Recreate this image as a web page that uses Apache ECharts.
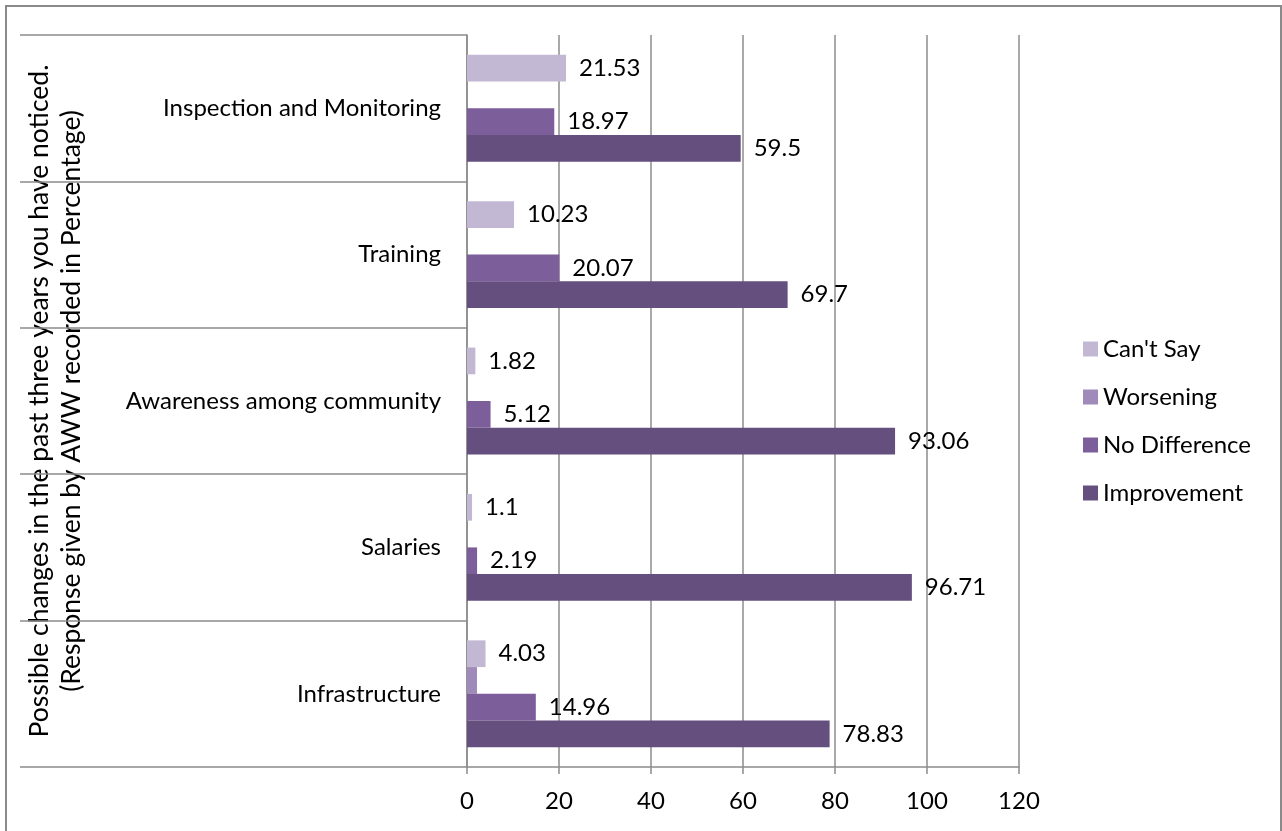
<!DOCTYPE html>
<html>
<head>
<meta charset="utf-8">
<script src="https://cdn.jsdelivr.net/npm/echarts@6/dist/echarts.min.js"></script>
<style>
  html, body { margin: 0; padding: 0; background: #fff; overflow: hidden; }
  #frame { position: absolute; left: 5px; top: 5px; width: 1277px; height: 840px; border: 2px solid #8a8a8a; box-sizing: border-box; }
  #chart { position: absolute; left: 0; top: 0; width: 1282px; height: 831px; }
</style>
</head>
<body>
<div id="frame"></div>
<div id="chart"></div>
<script>
// Categories listed bottom to top along the vertical axis
const categories = ['Infrastructure', 'Salaries', 'Awareness among community', 'Training', 'Inspection and Monitoring'];

// Percentage of responses per category
const improvement  = [78.83, 96.71, 93.06, 69.7, 59.5];
const noDifference = [14.96, 2.19, 5.12, 20.07, 18.97];
const worsening    = [2.18, 0, 0, 0, 0];
const cantSay      = [4.03, 1.1, 1.82, 10.23, 21.53];

const xTicks = { min: 0, max: 120, interval: 20 };

const FONT = 'Lato';
const GREY = '#8c8c8c';

const chart = echarts.init(document.getElementById('chart'), null, { renderer: 'canvas' });

function barSeries(name, data, color, showLabel) {
  return {
    name: name,
    type: 'bar',
    data: data,
    barGap: '0%',
    barCategoryGap: '27%',
    itemStyle: { color: color },
    label: {
      show: showLabel,
      position: 'right',
      distance: 13,
      color: '#000',
      fontFamily: FONT,
      fontSize: 24
    },
    emphasis: { disabled: true }
  };
}

chart.setOption({
  animation: false,
  textStyle: { fontFamily: FONT },
  grid: { left: 467, right: 263, top: 35, bottom: 64, containLabel: false },
  legend: {
    orient: 'vertical',
    left: 1078,
    top: 332,
    itemWidth: 15,
    itemHeight: 15,
    itemGap: 24,
    icon: 'rect',
    data: ["Can't Say", 'Worsening', 'No Difference', 'Improvement'],
    textStyle: { fontFamily: FONT, fontSize: 24, lineHeight: 24, color: '#000' }
  },
  xAxis: {
    type: 'value',
    min: xTicks.min,
    max: xTicks.max,
    interval: xTicks.interval,
    axisLine: { show: true, lineStyle: { color: GREY, width: 1.5 } },
    axisTick: { show: true, length: 7, lineStyle: { color: GREY, width: 1.5 } },
    splitLine: { show: true, lineStyle: { color: GREY, width: 1.5 } },
    axisLabel: { color: '#000', fontFamily: FONT, fontSize: 24, margin: 22 }
  },
  yAxis: {
    type: 'category',
    data: categories,
    boundaryGap: true,
    axisLine: { show: true, lineStyle: { color: GREY, width: 1.5 } },
    axisTick: { show: true, length: 447, lineStyle: { color: GREY, width: 1.5 } },
    axisLabel: { color: '#000', fontFamily: FONT, fontSize: 24, margin: 26 },
    name: 'Possible changes in the past three years you have noticed.\n(Response given by AWW recorded in Percentage)',
    nameLocation: 'middle',
    nameRotate: 90,
    nameGap: 380,
    nameTextStyle: { color: '#000', fontFamily: FONT, fontSize: 26.5, lineHeight: 32, align: 'center' }
  },
  // first series sits at the top of each category band
  series: [
    barSeries("Can't Say", cantSay, '#c3b8d4', true),
    barSeries('Worsening', worsening, '#9f8ab9', false),
    barSeries('No Difference', noDifference, '#7c5e9b', true),
    barSeries('Improvement', improvement, '#644f7f', true)
  ]
});
</script>
</body>
</html>
